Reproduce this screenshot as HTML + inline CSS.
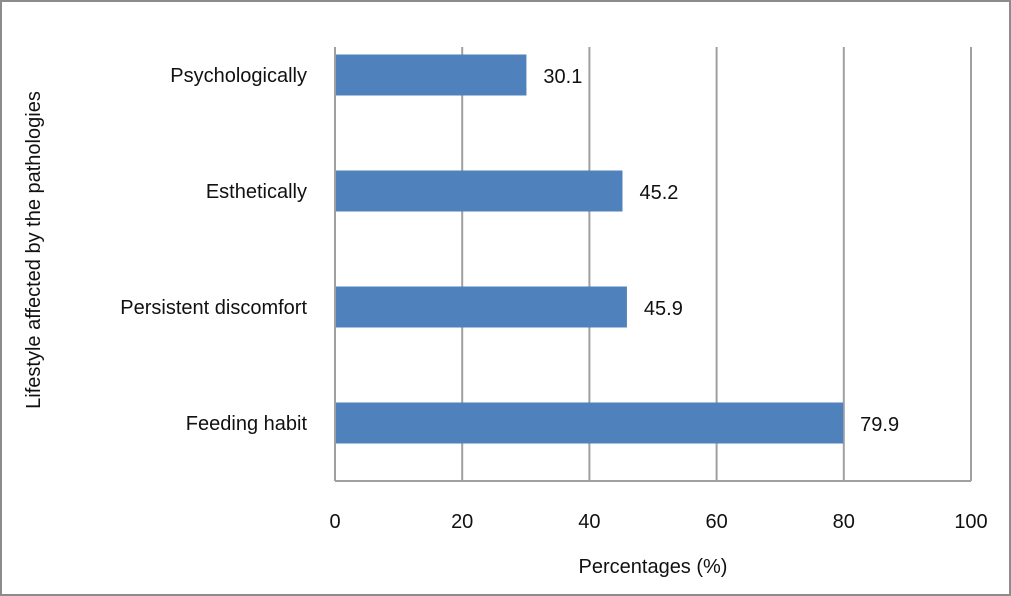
<!DOCTYPE html>
<html><head><meta charset="utf-8"><style>
body{margin:0;background:#fff;}
svg{display:block;font-family:"Liberation Sans",sans-serif;}
</style></head><body>
<svg width="1011" height="596">
<rect x="1" y="1" width="1009" height="594" fill="#fff" stroke="#8c8c8c" stroke-width="2"/>
<g id="grid"></g>
<g id="bars"></g>
<g id="xt"></g>
<g id="yt"></g>
<text x="653" y="573" text-anchor="middle" font-size="20" fill="#111">Percentages (%)</text>
<text transform="translate(40,250) rotate(-90)" text-anchor="middle" font-size="20" fill="#111">Lifestyle affected by the pathologies</text>
</svg>
<script>
const categories=["Psychologically","Esthetically","Persistent discomfort","Feeding habit"];
const values=[30.1,45.2,45.9,79.9];
const ticks=[0,20,40,60,80,100];
const NS="http://www.w3.org/2000/svg";
const X0=335,X1=971,T=17,B=481;
const xs=v=>X0+(v/100)*(X1-X0);
const band=(B-T)/categories.length;
function mk(tag,attrs,parent,txt){const e=document.createElementNS(NS,tag);for(const k in attrs)e.setAttribute(k,attrs[k]);if(txt!==undefined)e.textContent=txt;document.getElementById(parent).appendChild(e);return e;}
ticks.forEach(t=>{
  const l=mk('line',{x1:xs(t),x2:xs(t),y1:T+30,y2:B,stroke:'#a0a0a0','stroke-width':2},'grid');
  
  
  const tx=mk('text',{x:xs(t),y:528,'text-anchor':'middle','font-size':20,fill:'#111'},'xt',String(t));
  
  
});
const ax=mk('line',{x1:X0,x2:X1,y1:B,y2:B,stroke:'#a0a0a0','stroke-width':2},'grid');


categories.forEach((c,i)=>{
  const cy=T+band*(i+0.5);
  const r=mk('rect',{x:X0+1,y:cy-20.5,width:xs(values[i])-X0-1,height:41,fill:'#4f81bd'},'bars');
  
  
  const v=mk('text',{x:xs(values[i])+17,y:cy+8,'font-size':20,fill:'#111'},'bars',values[i].toFixed(1));
  
  
  const yl=mk('text',{x:307,y:cy+7,'text-anchor':'end','font-size':20,fill:'#111'},'yt',c);
  
  
});
</script>
</body></html>
